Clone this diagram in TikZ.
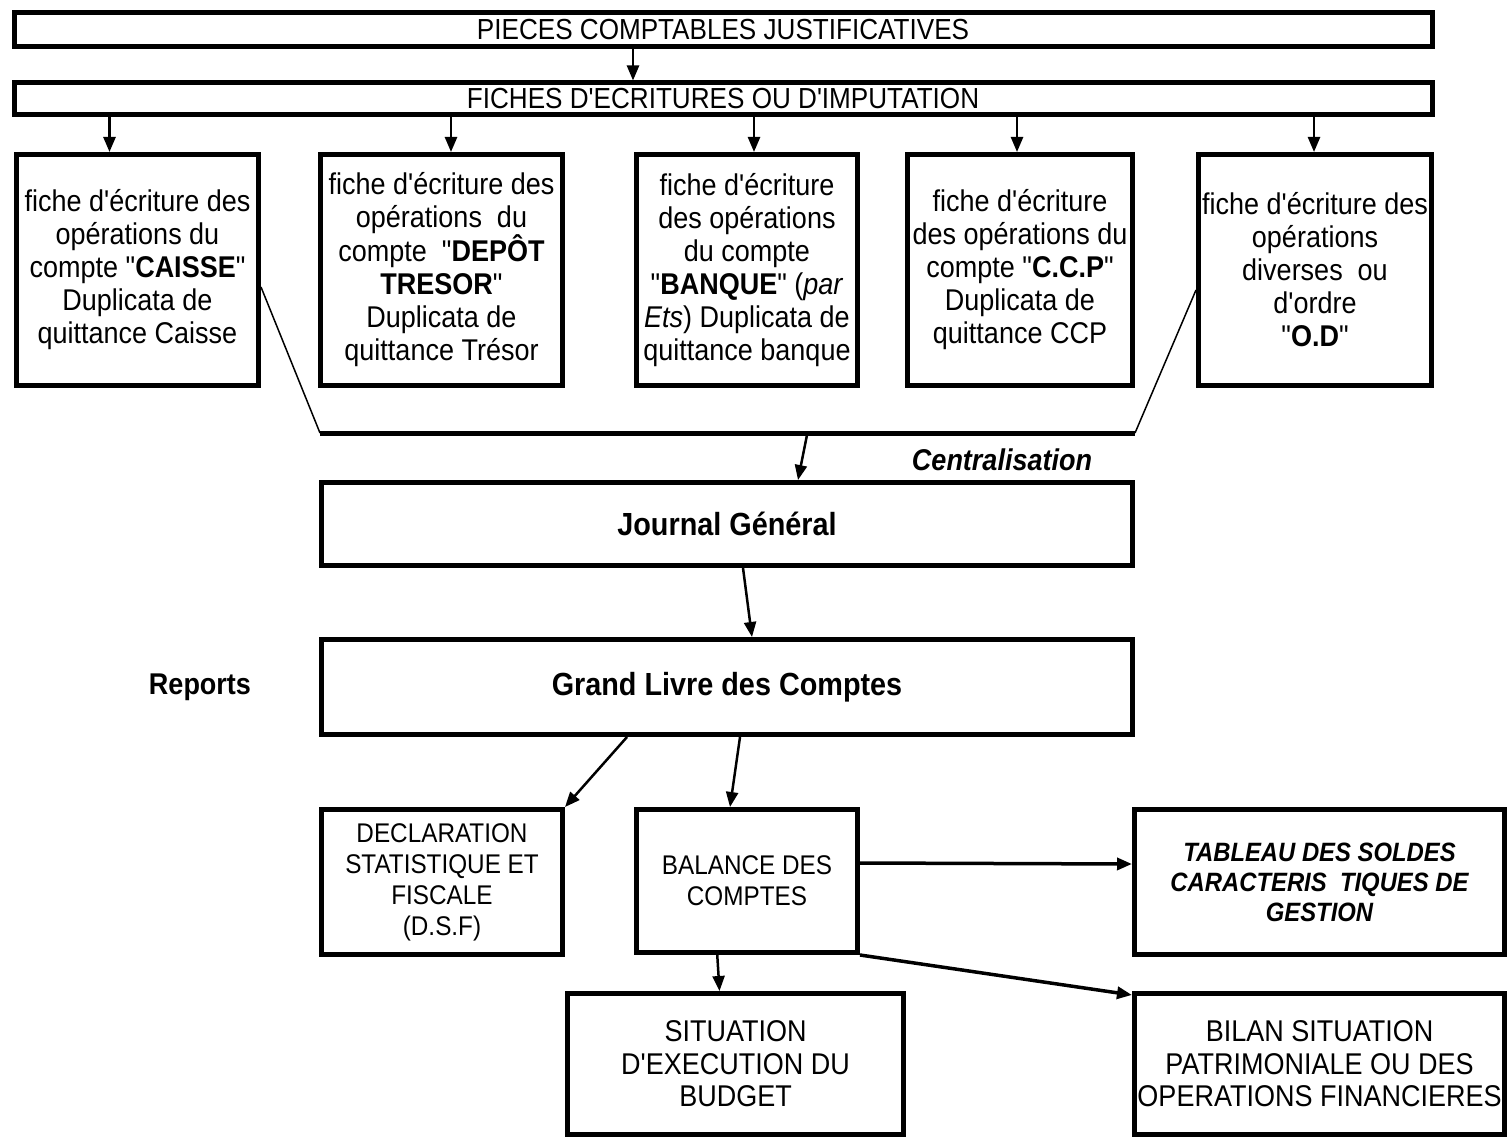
\documentclass[tikz,border=0pt]{standalone}
\usepackage{fontspec}
\newfontfamily\arial[FakeStretch=0.9]{Liberation Sans}
\usetikzlibrary{arrows.meta}

\begin{document}
\begin{tikzpicture}
  [x=1pt,y=-1pt,
   every node/.style={rectangle,
                      align=center,
                      inner sep=0pt,
                      font=\arial\fontsize{30}{33}\selectfont},
   box/.style={draw=black,line width=5pt},
   head/.style={box,font=\arial\fontsize{29}{30}\selectfont},
   big/.style={box,font=\arial\bfseries\fontsize{32}{34}\selectfont},
   small/.style={box,font=\arial\fontsize{27}{31}\selectfont},
   plain/.style={draw=none},
   arr/.style={-{Triangle[length=15pt,width=12pt]},line width=2.5pt},
   link/.style={line width=1.5pt}]
  \useasboundingbox (0,0) rectangle (1511,1139);

  \node[head,minimum width=1418,minimum height=34] (pieces) at (723,30)
    {PIECES COMPTABLES JUSTIFICATIVES};
  \node[head,minimum width=1418,minimum height=32] (fiches) at (723,99)
    {FICHES D'ECRITURES OU D'IMPUTATION};

  \node[box,minimum width=242,minimum height=231] (caisse) at (137.5,270)
    {fiche d'écriture des\\opérations du\\compte "\textbf{CAISSE}"\\Duplicata de\\quittance Caisse};
  \node[box,minimum width=242,minimum height=231] (tresor) at (441.5,270)
    {fiche d'écriture des\\opérations\ \ du\\compte\ \ "\textbf{DEPÔT}\\\textbf{TRESOR}"\\Duplicata de\\quittance Trésor};
  \node[box,minimum width=221,minimum height=231] (banque) at (747,270)
    {fiche d'écriture\\des opérations\\du compte\\"\textbf{BANQUE}" (\textit{par}\\\textit{Ets}) Duplicata de\\quittance banque};
  \node[box,minimum width=225,minimum height=231] (ccp) at (1020,270)
    {fiche d'écriture\\des opérations du\\compte "\textbf{C.C.P}"\\Duplicata de\\quittance CCP};
  \node[box,minimum width=233,minimum height=231] (od) at (1315,270)
    {fiche d'écriture des\\opérations\\diverses\ \ ou\\d'ordre\\"\textbf{O.D}"};

  \node[big,minimum width=811,minimum height=83] (journal) at (727,524) {Journal Général};
  \node[big,minimum width=811,minimum height=95] (grandlivre) at (727,687) {Grand Livre des Comptes};
  \node[plain,font=\arial\bfseries\fontsize{30}{33}\selectfont] (reports) at (200,687) {Reports};
  \node[plain,font=\arial\bfseries\itshape\fontsize{30}{33}\selectfont] (centr) at (1002,460) {Centralisation};

  \node[small,minimum width=241,minimum height=145] (dsf) at (442,882)
    {DECLARATION\\STATISTIQUE ET\\FISCALE\\(D.S.F)};
  \node[small,minimum width=221,minimum height=143] (balance) at (747,881)
    {BALANCE DES\\COMPTES};
  \node[box,font=\arial\bfseries\itshape\fontsize{26.5}{30}\selectfont,
        minimum width=370,minimum height=145] (tableau) at (1319.5,882)
    {TABLEAU DES SOLDES\\CARACTERIS\ \ TIQUES DE\\GESTION};
  \node[box,font=\arial\fontsize{30}{32.5}\selectfont,
        minimum width=336,minimum height=141] (budget) at (735.5,1064)
    {SITUATION\\D'EXECUTION DU\\BUDGET};
  \node[box,font=\arial\fontsize{30}{32.5}\selectfont,
        minimum width=370,minimum height=141] (bilan) at (1319.5,1064)
    {BILAN SITUATION\\PATRIMONIALE OU DES\\OPERATIONS FINANCIERES};

  \draw[arr] ([xshift=-90pt]pieces.south) -- ([xshift=-90pt]fiches.north);
  \draw[arr] ([xshift=-28pt]caisse.north |- fiches.south) -- ([xshift=-28pt]caisse.north);
  \draw[arr] ([xshift=9.5pt]tresor.north |- fiches.south) -- ([xshift=9.5pt]tresor.north);
  \draw[arr] ([xshift=7pt]banque.north |- fiches.south) -- ([xshift=7pt]banque.north);
  \draw[arr] ([xshift=-3pt]ccp.north |- fiches.south) -- ([xshift=-3pt]ccp.north);
  \draw[arr] ([xshift=-1pt]od.north |- fiches.south) -- ([xshift=-1pt]od.north);

  % centralisation
  \coordinate (cleft) at (320,433);
  \coordinate (cright) at (1135,433);
  \coordinate (cmid) at (807,435);
  \draw[link] ([yshift=-17pt]caisse.east) -- (cleft);
  \draw[link] ([yshift=-20pt]od.west) -- (cright);
  \draw[line width=5pt] (cleft) -- (cright);
  \draw[arr] (cmid) -- ([xshift=71pt]journal.north);

  \draw[arr] ([xshift=16pt]journal.south) -- ([xshift=25pt]grandlivre.north);
  \draw[arr] ([xshift=-100pt]grandlivre.south) -- (dsf.north east);
  \draw[arr] ([xshift=13pt]grandlivre.south) -- ([xshift=-17pt]balance.north);

  \draw[arr,line width=3.5pt] ([yshift=18pt]balance.east) -- ([yshift=18pt]tableau.west);
  \draw[arr] ([xshift=-30pt,yshift=4pt]balance.south) -- ([xshift=-16pt]budget.north);
  \draw[arr,line width=3.5pt] (balance.south east) -- ([yshift=-4pt]bilan.north west);
\end{tikzpicture}
\end{document}
